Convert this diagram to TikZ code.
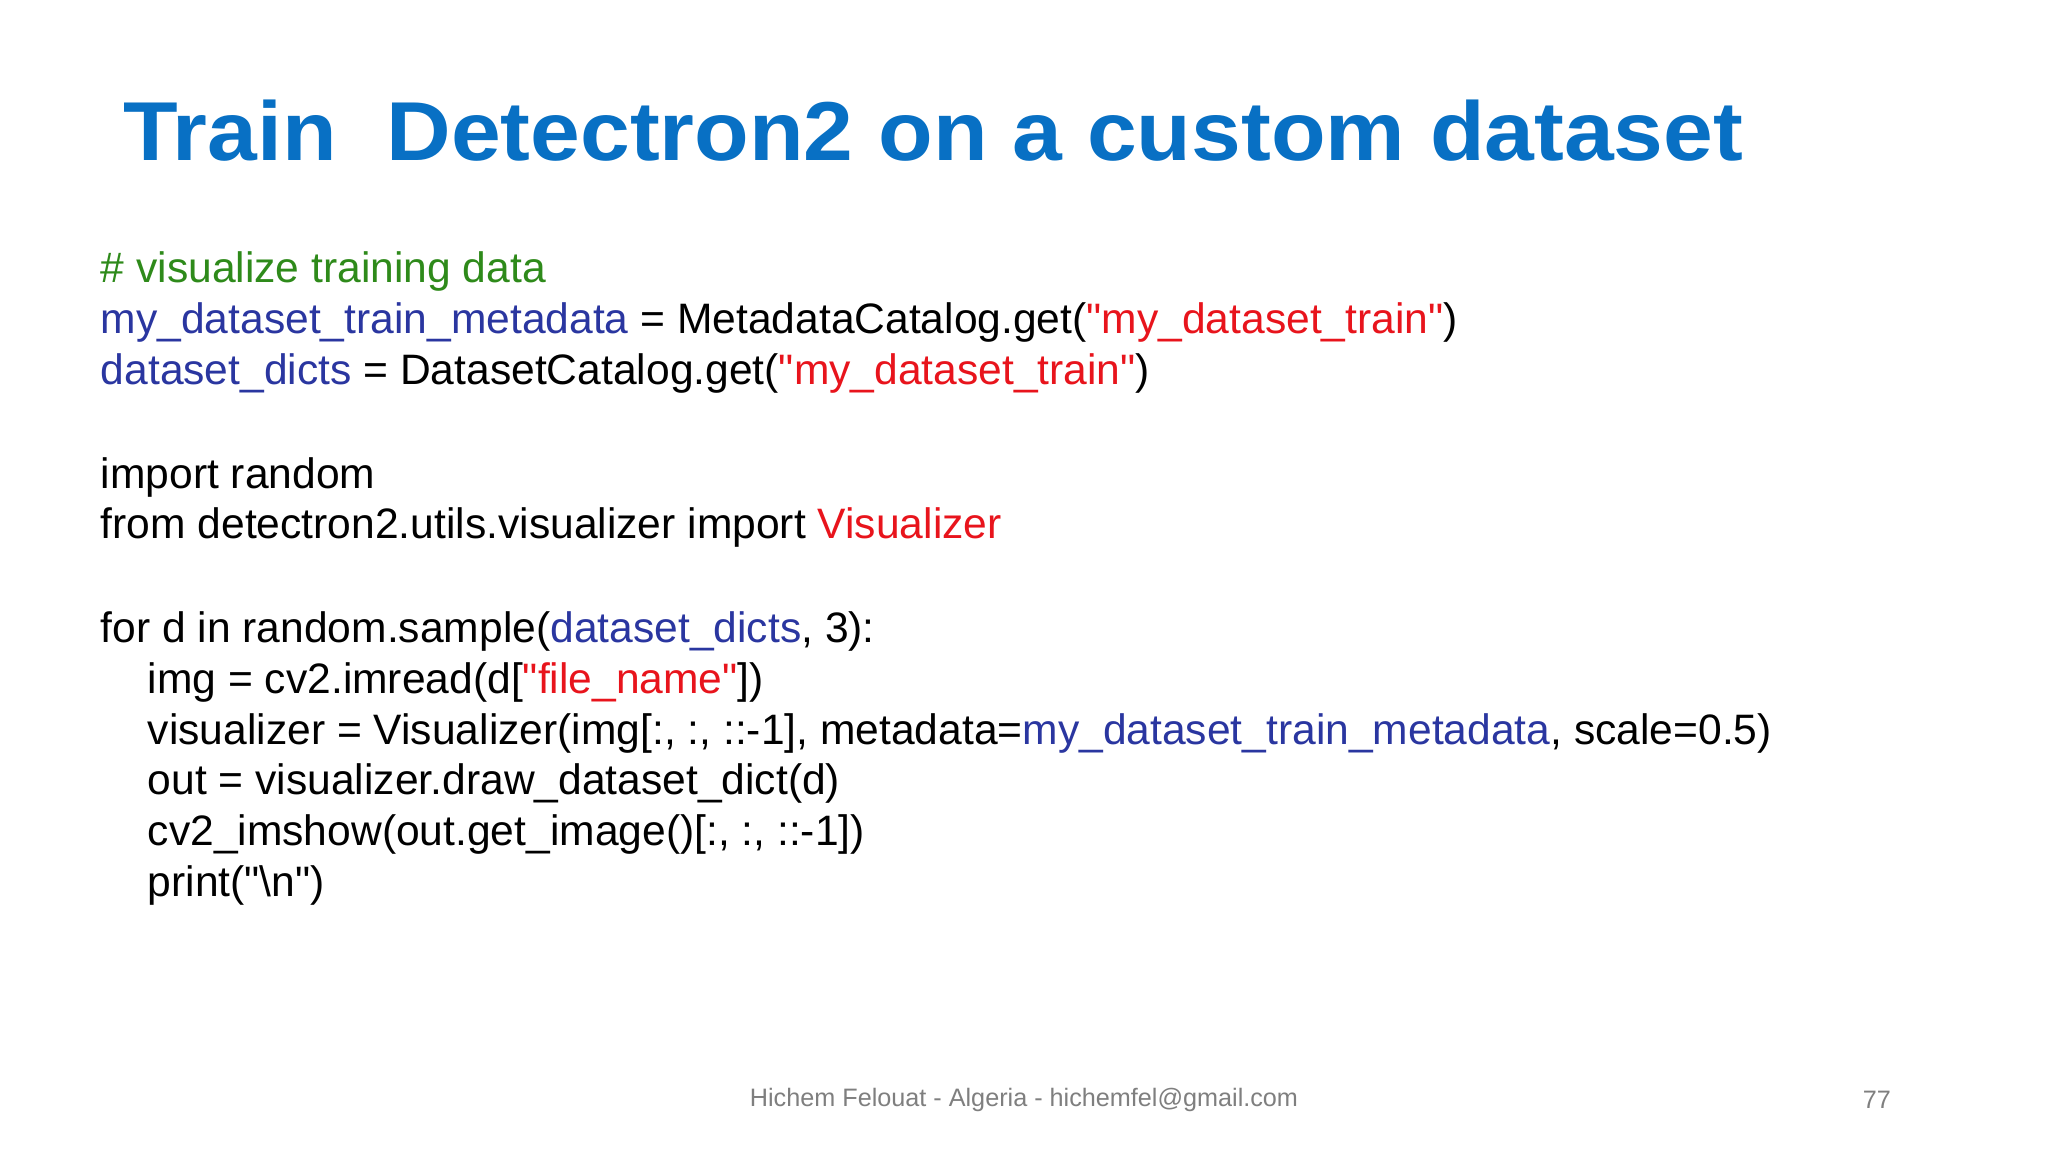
\documentclass[tikz,border=0pt]{standalone}
\usepackage{fontspec}
\setmainfont{Liberation Sans}
\definecolor{ttl}{HTML}{0870C4}
\definecolor{cm}{HTML}{2E8A1A}
\definecolor{vb}{HTML}{2A36A0}
\definecolor{st}{HTML}{E8141C}
\definecolor{ft}{HTML}{7F7F7F}
\begin{document}
\begin{tikzpicture}[x=1pt,y=-1pt,
  code/.style={anchor=mid west,inner sep=0pt,font=\fontsize{32.6}{38}\selectfont},
  ]
\useasboundingbox[fill=white] (0,0) rectangle (1568,882);
\node[anchor=mid west,inner sep=0pt,text=ttl,font=\fontsize{64}{74}\selectfont\bfseries,xscale=1.07] (title) at (94,120) {Train\ \ Detectron2 on a custom dataset};
\newcommand{\vb}[1]{\textcolor{vb}{#1}}
\newcommand{\sr}[1]{\textcolor{st}{#1}}
\newcommand{\q}{\textquotedbl}
\node[code,text=cm] (l1) at (77,214) {\# visualize training data};
\node[code] (l2) at (77,253) {\vb{my\_dataset\_train\_metadata} = MetadataCatalog.get(\sr{\q my\_dataset\_train\q})};
\node[code] (l3) at (77,292) {\vb{dataset\_dicts} = DatasetCatalog.get(\sr{\q my\_dataset\_train\q})};
\node[code] (l4) at (77,371) {import random};
\node[code] (l5) at (77,410) {from detectron2.utils.visualizer import \sr{Visualizer}};
\node[code] (l6) at (77,489) {for d in random.sample(\vb{dataset\_dicts}, 3):};
\node[code] (l7) at (113,528) {img = cv2.imread(d[\sr{\q file\_name\q}])};
\node[code] (l8) at (113,567) {visualizer = Visualizer(img[:, :, ::-1], metadata=\vb{my\_dataset\_train\_metadata}, scale=0.5)};
\node[code] (l9) at (113,606) {out = visualizer.draw\_dataset\_dict(d)};
\node[code] (l10) at (113,645) {cv2\_imshow(out.get\_image()[:, :, ::-1])};
\node[code] (l11) at (113,684) {print(\q\textbackslash n\q)};
\node[text=ft,font=\fontsize{19.3}{22}\selectfont,inner sep=0pt] (foot) at (784,842) {Hichem Felouat - Algeria - hichemfel@gmail.com};
\node[text=ft,font=\fontsize{19.3}{22}\selectfont,inner sep=0pt] (pg) at (1437,842) {77};
\end{tikzpicture}
\end{document}
